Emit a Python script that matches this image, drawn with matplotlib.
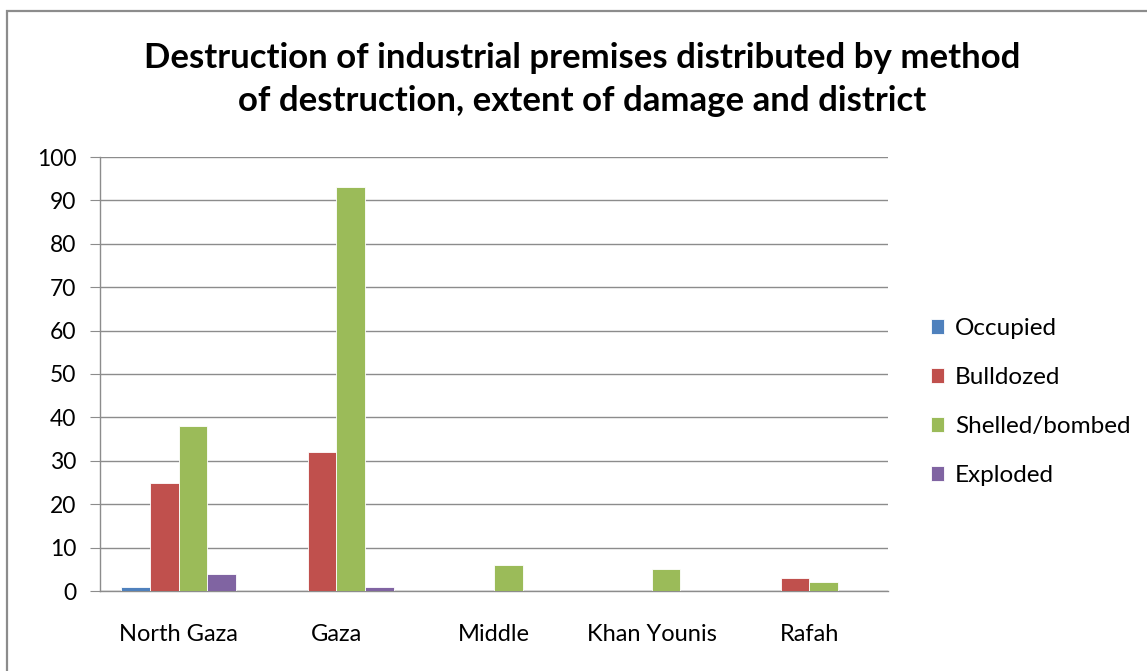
import matplotlib
matplotlib.use("Agg")
import matplotlib.pyplot as plt
import numpy as np
from matplotlib.patches import Rectangle

districts = ["North Gaza", "Gaza", "Middle", "Khan Younis", "Rafah"]
series_names = ["Occupied", "Bulldozed", "Shelled/bombed", "Exploded"]
occupied = [1, 0, 0, 0, 0]
bulldozed = [25, 32, 0, 0, 3]
shelled = [38, 93, 6, 5, 2]
exploded = [4, 1, 0, 0, 0]
y_ticks = [0, 10, 20, 30, 40, 50, 60, 70, 80, 90, 100]

colors = ["#4F81BD", "#C0504D", "#9BBB59", "#8064A2"]
title = "Destruction of industrial premises distributed by method\nof destruction, extent of damage and district"

W, H = 1147, 671
fig = plt.figure(figsize=(W / 100, H / 100), dpi=100)
fig.patch.set_facecolor("white")
plt.rcParams["font.family"] = ["Lato", "DejaVu Sans"]

# outer chart frame
fig.patches.append(Rectangle((7 / W, -0.05), 1.2, (H - 11) / H + 0.05,
                             transform=fig.transFigure, fill=False,
                             edgecolor="#8c8c8c", linewidth=1.6))

ax = fig.add_axes([100 / W, (H - 591) / H, 788 / W, 434 / H])

values = [occupied, bulldozed, shelled, exploded]
x = np.arange(len(districts))
bw = 1 / 5.5
for i, (name, vals) in enumerate(zip(series_names, values)):
    ax.bar(x + (i - 1.5) * bw, vals, width=bw, color=colors[i],
           edgecolor="white", linewidth=0.6, label=name, zorder=3)

ax.set_xlim(-0.5, len(districts) - 0.5)
ax.set_ylim(0, 100)
ax.set_yticks(y_ticks)
ax.set_xticks(x)
ax.set_xticklabels(districts)
ax.grid(axis="y", color="#8c8c8c", linewidth=1.0, zorder=0)
for s in ["top", "right"]:
    ax.spines[s].set_visible(False)
for s in ["left", "bottom"]:
    ax.spines[s].set_color("#8c8c8c")
    ax.spines[s].set_linewidth(1.0)
ax.tick_params(axis="y", length=7, color="#8c8c8c", labelsize=16.5, pad=10)
ax.tick_params(axis="x", length=0, labelsize=17, pad=24)

fig.text(582 / W, 1 - 79.5 / H, title, ha="center", va="center",
         fontsize=25, fontweight="bold", linespacing=1.45)

ax.legend(loc="center left", bbox_to_anchor=(909 / 788 - 100 / 788, 0.5 - 28 / 434),
          frameon=False, fontsize=17.5, handlelength=0.55, handleheight=0.55,
          handletextpad=0.45, labelspacing=1.15)

fig.savefig("out.png", dpi=100, facecolor="white")
